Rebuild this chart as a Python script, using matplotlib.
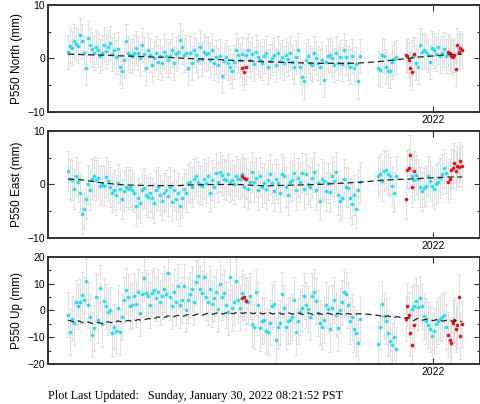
import numpy as np
import matplotlib
matplotlib.use("Agg")
import matplotlib.pyplot as plt
from matplotlib.ticker import MultipleLocator

# days counted from 2021-01-01; day 365 is the start of 2022
cyan_days = np.r_[0:294:2, 310:330:2, 344:380:2]
red_days = [174, 176, 178, 338, 339, 341, 342, 344, 346,
            380, 382, 383, 385, 386, 388, 389, 391, 392, 394]

north = [1.2, 2.4, 1.9, 3.2, 2.7, 2.4, 4.4, 3.3, 1.0, -1.8,
         3.8, 2.5, 1.7, 1.0, 2.1, 1.6, 0.4, 1.1, 2.6, 1.4,
         2.2, 2.9, 0.8, 1.5, 0.3, 1.8, -1.5, -2.4, -0.2, 3.2,
         1.0, 0.7, 0.4, 1.1, 1.9, 1.0, 0.0, 2.5, 0.9, -1.8,
         1.6, 0.7, -1.2, 0.0, 1.0, -0.6, 0.4, -0.9, 1.3, 0.5,
         -0.2, 0.4, 1.6, -0.8, 0.8, 1.2, 3.5, 2.2, 0.7, 1.1,
         -1.8, 1.0, -0.9, 1.6, 0.6, -0.3, 2.2, -0.1, 1.3, 0.9,
         1.0, -0.2, 1.6, -0.9, 0.3, -1.2, 0.5, -3.3, -0.4, 0.2,
         -0.9, -1.5, -2.4, -0.7, 1.6, 0.7,
         -0.3, 0.8, -1.5, 0.6, 1.5, -0.2, 0.9, -1.0, 1.2, 0.3,
         -0.2, -0.8, 0.4, 1.0, -1.5, -0.5, 0.1, 0.7, -1.2, 1.0,
         -0.4, 0.3, -0.9, 0.6, -0.1, 1.0, -0.6, -1.5, 0.3, 1.6,
         -1.5, -3.5, -4.3, -0.3, 0.4, -0.9, -1.2, 1.0, 0.1, -0.9,
         -1.5, -0.2, -4.0, -0.6, 0.4, 0.7, 0.0, -1.2, 1.0, -0.8,
         0.3, -1.0, 1.6, 0.2, -0.9, -1.5, 0.4, -1.8, -1.0, -4.3,
         0.4,
         -1.8, -2.1, 0.7, 0.4, -1.5, -2.4, -2.4, -0.6, -0.1, 0.3,
         0.2, 0.7, -0.9, -1.5, 2.5, 1.3, 1.6, 1.2, 0.7, -0.6,
         1.9, 1.5, 0.9, 2.1, 0.4, 1.0, 1.7, 0.5]
north_red = [-1.7, -2.6, -1.6, 0.6, 0.5, -0.2, -1.8, -2.6, 0.8,
             1.3, 1.0, 0.4, 0.2, 0.7, -2.0, 2.5, 1.3, 1.9, 1.5]

east = [2.5, 1.0, 0.8, -0.8, 1.5, 0.5, -1.5, -5.5, -4.6, -2.8,
        0.0, -1.0, 1.0, 1.5, 0.8, 1.2, -0.2, 0.0, -0.3, 1.4,
        0.6, -0.5, -1.5, -1.0, -2.0, 0.2, -0.8, -2.7, -1.2, -0.5,
        -0.8, -0.5, -1.0, -1.5, -4.0, -2.5, -3.5, -1.0, -0.7, -2.0,
        -2.3, -1.5, -2.5, -3.5, -1.0, -0.5, -2.0, -3.0, -1.5, -1.0,
        -2.2, -0.4, -3.2, -1.0, -2.8, -1.5, -4.0, -2.5, -0.8, -1.5,
        0.2, 0.5, -0.5, 1.0, 1.5, 0.5, 0.0, -0.2, 1.0, 0.3,
        1.5, -1.5, 0.8, -0.5, 2.2, 0.5, 2.3, 1.8, 1.0, 0.8,
        2.0, 0.5, 0.8, 0.0, 1.6, 1.0,
        1.0, 2.0, -0.5, 1.0, -0.8, 0.5, 2.3, 0.5, 1.3, -1.0,
        1.5, -0.5, 0.3, -0.8, 0.8, 2.0, 0.2, -1.3, 1.0, 0.2,
        -1.5, 2.0, 1.5, -0.5, -2.0, 0.5, 0.8, 2.1, -1.0, 1.3,
        0.5, 2.2, -0.8, 2.0, 0.0, -0.5, 1.2, 2.3, -1.0, 0.2,
        -3.0, 1.0, 0.6, -1.3, 0.3, -1.4, 1.5, 0.7, 2.3, -2.0,
        -3.0, -2.5, 1.0, -0.4, -0.6, -2.5, -3.6, -2.0, -4.5, -1.0,
        0.5,
        1.5, 2.0, 0.6, 2.5, 2.8, 2.0, 1.5, -0.3, -1.5, 1.6,
        1.5, 0.8, 1.8, 1.0, -0.5, -1.3, -0.6, -0.3, 1.6, 0.7,
        -0.3, -0.8, 0.1, 0.5, 1.2, 2.0, 3.0, 2.2]
east_red = [1.5, 1.3, 1.1, -2.8, 2.8, 3.0, 5.5, -0.5, 2.6,
            0.5, 1.0, 2.8, 3.0, 4.0, 2.6, 3.5, 3.2, 4.3, 3.5]

up = [-1.5, -8.0, -3.0, -4.5, 3.0, 1.5, 3.3, 5.8, 4.0, 11.0,
      2.0, -2.5, -9.0, -6.5, 5.0, -3.5, 8.5, -5.0, 3.5, 1.5,
      -0.5, 0.3, -8.5, -6.0, -7.5, 1.0, -8.0, -2.5, 4.0, 7.5,
      5.0, 1.5, 2.0, 5.5, 2.5, 7.0, -1.0, 6.0, 12.0, 6.5,
      5.5, 2.0, 6.5, 7.5, 4.5, 7.0, 3.0, 5.5, 8.0, 6.0,
      14.0, 5.0, 1.5, 7.0, 3.0, 9.0, 2.0, 4.0, 9.0, 0.3,
      4.0, 6.0, 8.0, 3.0, 10.5, 13.0, 8.0, 6.5, 12.5, 5.0,
      3.0, 8.0, 2.5, 4.5, 7.0, 0.5, 10.0, 5.0, 6.5, 2.0,
      -0.5, 12.5, 1.0, 3.0, 11.0, 4.0,
      1.0, 6.5, 5.0, 4.0, 3.0, 5.5, -5.0, -6.0, 7.0, 2.0,
      -6.5, -4.0, -3.5, -7.5, -8.0, -4.5, 1.5, 2.5, -11.0, -6.0,
      -4.5, 6.0, 1.0, -6.0, -4.0, -3.5, -2.5, 4.0, -8.0, -4.0,
      -0.5, 1.0, 5.5, 2.0, 0.5, -2.5, 5.5, 7.0, 3.5, -1.0,
      -4.5, -6.0, -3.5, 2.0, 0.5, -7.0, 1.0, 4.0, -1.5, -6.5,
      0.0, 3.0, 7.0, 6.0, 2.0, -4.0, -2.5, -7.0, -8.5, -12.0,
      -3.0,
      -12.5, -6.0, 2.5, -2.0, -4.0, -8.5, -11.5, -13.0, -10.0, -14.5,
      0.5, 1.5, 3.5, 1.2, 4.5, 1.5, -2.0, -4.0, -5.5, -7.0,
      -9.5, -7.5, -5.0, -4.0, -3.0, -2.5, -1.5, -6.0]
up_red = [4.5, 5.2, 3.5, -3.0, 1.8, -1.5, -8.5, -13.0, -5.5,
          -9.0, -11.0, -12.0, -4.5, -3.5, -7.0, -5.5, 5.0, -9.5, -5.0]

# model (dashed) lines
trend_days = np.append(np.arange(0, 395, 10), 394)
north_trend = [0.8, 0.75, 0.7, 0.65, 0.6, 0.5, 0.45, 0.4, 0.3, 0.25,
               0.2, 0.1, 0.0, -0.05, -0.15, -0.2, -0.3, -0.4, -0.45, -0.55,
               -0.6, -0.7, -0.75, -0.8, -0.85, -0.9, -0.9, -0.9, -0.9, -0.85,
               -0.75, -0.6, -0.4, -0.2, 0.0, 0.25, 0.4, 0.55, 0.7, 0.8, 0.8]
east_trend = [1.0, 0.95, 0.7, 0.4, 0.2, 0.0, -0.1, -0.15, -0.2, -0.2,
              -0.2, -0.2, -0.1, -0.05, 0.0, 0.0, 0.0, 0.0, -0.1, -0.2,
              -0.25, -0.2, -0.15, -0.1, -0.05, 0.0, 0.1, 0.2, 0.3, 0.4,
              0.55, 0.75, 0.85, 0.95, 1.0, 1.1, 1.2, 1.3, 1.4, 1.4, 1.4]
up_trend_days = np.append(np.arange(0, 395, 5), 394)
up_trend = [-3.6, -4.2, -3.8, -4.6, -4.3, -4.9, -4.5, -4.9, -4.2, -4.7,
            -3.9, -4.4, -3.7, -4.1, -3.4, -3.7, -3.0, -3.2, -2.4, -2.8,
            -2.0, -2.4, -1.8, -2.2, -1.5, -1.9, -1.3, -1.7, -1.0, -1.4,
            -0.8, -1.3, -0.7, -1.2, -0.6, -1.1, -0.6, -1.2, -0.7, -1.3,
            -0.7, -1.3, -0.8, -1.4, -0.8, -1.4, -0.9, -1.5, -0.9, -1.5,
            -1.0, -1.5, -1.0, -1.6, -1.0, -1.6, -1.1, -1.6, -1.2, -1.3,
            -1.4, -1.6, -1.8, -2.4, -2.0, -2.7, -2.3, -3.0, -2.6, -3.9,
            -2.9, -3.6, -3.1, -3.8, -3.3, -4.0, -3.5, -4.1, -3.7, -4.2]

# typical 1-sigma error (mm)
sigmas = {"North": 3.2, "East": 3.7, "Up": 8.5}

plt.rcParams['font.family'] = ['Liberation Sans', 'DejaVu Sans']

fig = plt.figure(figsize=(4.81, 4.04), dpi=100)
boxes = [0.7228, 0.4109, 0.0990]
height = 0.2649

panels = [
    ("North", north, north_red, trend_days, north_trend, 10),
    ("East", east, east_red, trend_days, east_trend, 10),
    ("Up", up, up_red, up_trend_days, up_trend, 20),
]

for (name, vals, reds, tdays, tvals, lim), y0 in zip(panels, boxes):
    ax = fig.add_axes([0.0998, y0, 0.898, height])
    sig = sigmas[name]
    ax.errorbar(cyan_days, vals, yerr=sig, fmt='none', ecolor='#e0e0e0',
                elinewidth=0.8, capsize=1.4, capthick=0.7, zorder=1)
    ax.errorbar(red_days, reds, yerr=sig, fmt='none', ecolor='#e0e0e0',
                elinewidth=0.8, capsize=1.4, capthick=0.7, zorder=1)
    ax.plot(cyan_days, vals, 'o', ms=2.6, color='#1ee3f2', mew=0, zorder=3)
    ax.plot(red_days, reds, 'o', ms=2.6, color='#f01010', mew=0, zorder=3)
    ax.plot(tdays, tvals, '--', color='#222222', lw=0.9, dashes=(5, 3), zorder=4)

    ax.set_xlim(-20, 412)
    ax.set_ylim(-lim, lim)
    ax.set_xticks([365])
    ax.set_xticklabels(['2022'])
    ax.yaxis.set_major_locator(MultipleLocator(10))
    ax.yaxis.set_minor_locator(MultipleLocator(5))
    ax.tick_params(direction='in', top=True, right=True, length=4,
                   width=0.8, color='#333333', labelsize=7.5, pad=2)
    ax.tick_params(which='minor', direction='in', right=True, length=2.5,
                   width=0.8, color='#333333')
    for sp in ax.spines.values():
        sp.set_linewidth(1.4)
        sp.set_color('#333333')
    ax.set_ylabel(f'P550 {name} (mm)', fontsize=8.5, labelpad=3)

fig.text(0.1, 0.02, 'Plot Last Updated:   Sunday, January 30, 2022 08:21:52 PST',
         family=['Liberation Serif', 'DejaVu Serif'], fontsize=8.7, va='center')

fig.savefig('out.png', dpi=100)
